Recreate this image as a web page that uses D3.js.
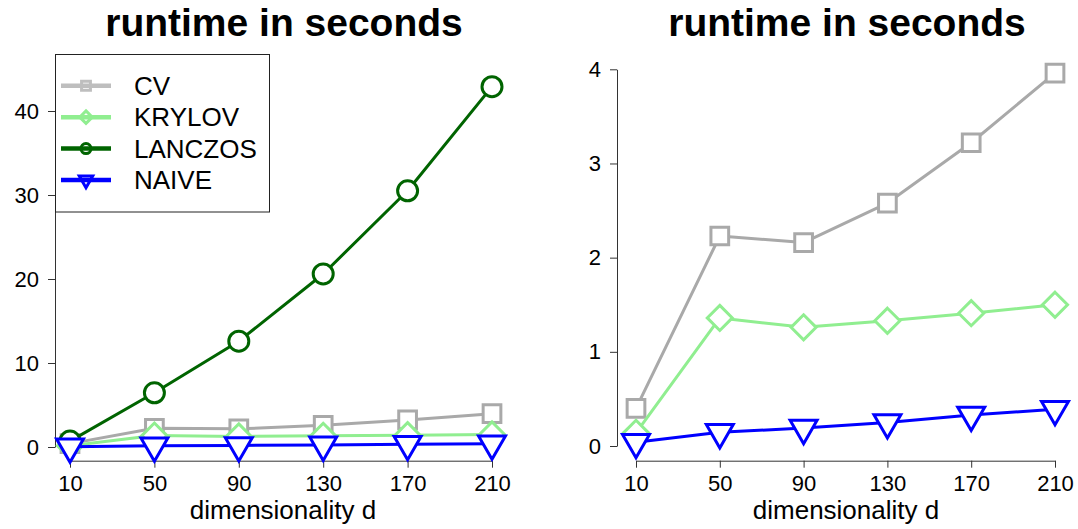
<!DOCTYPE html>
<html><head><meta charset="utf-8">
<script src="https://cdn.jsdelivr.net/npm/d3@7"></script>
<style>
body{margin:0;background:#fff}
text{font-family:"Liberation Sans",Arial,sans-serif;fill:#000}
</style>
</head><body>
<svg id="c" width="1078" height="529"></svg>
<script>
// ---- data ----
const dims = [10, 50, 90, 130, 170, 210];
const seriesNames = ["CV", "KRYLOV", "LANCZOS", "NAIVE"];
const cvValues = [0.40, 2.23, 2.16, 2.58, 3.22, 3.96];
const krylovValues = [0.14, 1.36, 1.26, 1.33, 1.41, 1.50];
const lanczosValues = [0.7, 6.45, 12.6, 20.6, 30.5, 42.9];
const naiveValues = [0.04, 0.145, 0.19, 0.25, 0.33, 0.39];
const leftYTicks = [0, 10, 20, 30, 40];
const rightYTicks = [0, 1, 2, 3, 4];
const xTicks = [10, 50, 90, 130, 170, 210];
const titleText = "runtime in seconds";
const xLabelText = "dimensionality d";

// ---- styles ----
const valuesByName = {CV: cvValues, KRYLOV: krylovValues, LANCZOS: lanczosValues, NAIVE: naiveValues};
const styles = {
  CV:      {color: "#a9a9a9", legend: "#bebebe", shape: "square"},
  KRYLOV:  {color: "#90ee90", legend: "#90ee90", shape: "diamond"},
  LANCZOS: {color: "#006400", legend: "#006400", shape: "circle"},
  NAIVE:   {color: "#0000ff", legend: "#0000ff", shape: "triangle"}
};

function markerPath(shape, R) {
  const p = d3.path();
  if (shape === "square") {
    const h = 0.8862 * R; p.rect(-h, -h, 2 * h, 2 * h);
  } else if (shape === "diamond") {
    const h = 1.2533 * R; p.moveTo(0, -h); p.lineTo(h, 0); p.lineTo(0, h); p.lineTo(-h, 0); p.closePath();
  } else if (shape === "circle") {
    p.moveTo(R, 0); p.arc(0, 0, R, 0, 2 * Math.PI);
  } else {
    const r = 1.5551 * R, xc = 1.3468 * R, yc = 0.7776 * R;
    p.moveTo(0, r); p.lineTo(xc, -yc); p.lineTo(-xc, -yc); p.closePath();
  }
  return p.toString();
}

const svg = d3.select("#c");

const panels = [
  {xr: [70, 492], yr: [447, 111], yDomain: [0, 40], yTicks: leftYTicks, axisX: 55, axisY: 460.7,
   names: ["CV", "KRYLOV", "LANCZOS", "NAIVE"], titleX: 284, labelX: 283, legend: true},
  {xr: [636, 1055], yr: [446, 69.3], yDomain: [0, 4], yTicks: rightYTicks, axisX: 617, axisY: 460.7,
   names: ["CV", "KRYLOV", "NAIVE"], titleX: 847, labelX: 846, legend: false}
];

panels.forEach(pn => {
  const x = d3.scaleLinear().domain([10, 210]).range(pn.xr);
  const y = d3.scaleLinear().domain(pn.yDomain).range(pn.yr);
  const g = svg.append("g");

  // title
  g.append("text").attr("x", pn.titleX).attr("y", 36).attr("text-anchor", "middle")
    .style("font-size", "39px").style("font-weight", "bold").text(titleText);

  // y axis
  const ya = g.append("g").attr("transform", `translate(${pn.axisX},0)`)
    .call(d3.axisLeft(y).tickValues(pn.yTicks).tickSize(7).tickSizeOuter(0).tickPadding(9).tickFormat(d3.format("d")));
  // x axis
  const xa = g.append("g").attr("transform", `translate(0,${pn.axisY})`)
    .call(d3.axisBottom(x).tickValues(xTicks).tickSize(7).tickSizeOuter(0).tickPadding(8).tickFormat(d3.format("d")));
  [ya, xa].forEach(a => {
    a.selectAll("path.domain").attr("stroke", "#333").attr("stroke-width", 1);
    a.selectAll(".tick line").attr("stroke", "#333").attr("stroke-width", 1);
    a.selectAll(".tick text").style("font-size", "22px").attr("fill", "#000")
      .style("font-family", '"Liberation Sans",Arial,sans-serif');
  });

  // x label
  g.append("text").attr("x", pn.labelX).attr("y", 519).attr("text-anchor", "middle")
    .style("font-size", "26px").text(xLabelText);

  // series
  const line = d3.line().x((d, i) => x(dims[i])).y(d => y(d));
  pn.names.forEach(name => {
    const vals = valuesByName[name], st = styles[name];
    g.append("path").attr("d", line(vals)).attr("fill", "none")
      .attr("stroke", st.color).attr("stroke-width", 3).attr("stroke-linejoin", "round");
    g.selectAll(null).data(vals).enter().append("path")
      .attr("transform", (d, i) => `translate(${x(dims[i])},${y(d)})`)
      .attr("d", markerPath(st.shape, 10))
      .attr("fill", "#fff").attr("stroke", st.color).attr("stroke-width", 3);
  });

  // legend
  if (pn.legend) {
    const lg = g.append("g");
    lg.append("rect").attr("x", 55.5).attr("y", 54.5).attr("width", 214).attr("height", 157.5)
      .attr("fill", "#fff").attr("stroke", "#222").attr("stroke-width", 1);
    const ly = d3.scalePoint().domain(seriesNames).range([85.7, 180]);
    seriesNames.forEach(name => {
      const st = styles[name], cy = ly(name);
      lg.append("line").attr("x1", 61).attr("x2", 111).attr("y1", cy).attr("y2", cy)
        .attr("stroke", st.legend).attr("stroke-width", 4.5);
      lg.append("path").attr("transform", `translate(86,${cy})`).attr("d", markerPath(st.shape, 5))
        .attr("fill", "none").attr("stroke", st.legend).attr("stroke-width", 3);
      lg.append("text").attr("x", 134).attr("y", cy + 9.3).style("font-size", "26px").text(name);
    });
  }
});
</script>
</body></html>
